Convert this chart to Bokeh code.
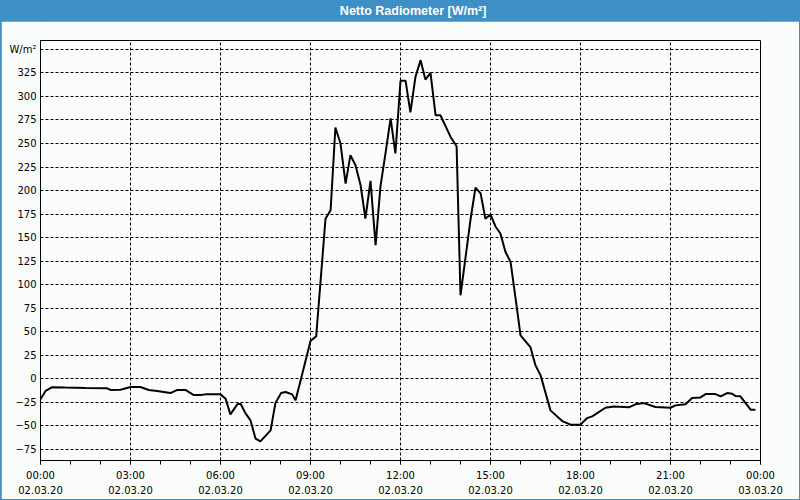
from bokeh.plotting import figure
from bokeh.layouts import column
from bokeh.models import FixedTicker, Range1d, ColumnDataSource
from bokeh.embed import file_html
from bokeh.resources import INLINE
from bokeh.core.properties import value

# ---- data (hours since 02.03.20 00:00, W/m²) ----
hours = [0.00, 0.17, 0.39, 0.83, 1.50, 2.22, 2.33, 2.67, 3.00, 3.33, 3.61, 3.89,
         4.33, 4.56, 4.83, 5.11, 5.33, 5.50, 6.00, 6.17, 6.33, 6.56, 6.67, 6.83,
         7.00, 7.17, 7.33, 7.67, 7.83, 8.02, 8.17, 8.39, 8.50, 8.67, 9.00, 9.19,
         9.50, 9.67, 9.83, 10.00, 10.17, 10.33, 10.50, 10.67, 10.83, 11.00, 11.17,
         11.33, 11.50, 11.67, 11.83, 12.00, 12.17, 12.33, 12.50, 12.67, 12.83,
         13.00, 13.17, 13.33, 13.67, 13.87, 14.00, 14.17, 14.33, 14.50, 14.67,
         14.83, 15.00, 15.17, 15.33, 15.50, 15.67, 15.89, 16.00, 16.33, 16.50,
         16.67, 17.00, 17.39, 17.67, 18.00, 18.22, 18.39, 18.83, 19.11, 19.61,
         19.83, 20.11, 20.50, 21.00, 21.17, 21.50, 21.72, 22.00, 22.17, 22.50,
         22.67, 22.89, 23.06, 23.17, 23.33, 23.67, 23.83]
watts = [-22.0, -13.0, -9.0, -9.5, -10.0, -10.3, -12.0, -11.7, -8.9, -8.9, -12.0, -13.0,
         -15.3, -12.0, -12.0, -17.4, -17.4, -16.7, -16.7, -21.3, -38.0, -27.3, -26.6, -36.6,
         -44.4, -63.8, -66.7, -55.0, -26.0, -15.3, -14.2, -16.7, -23.1, -2.0, 40.0, 45.0,
         170.0, 179.0, 267.0, 250.0, 207.4, 237.6, 226.9, 205.6, 170.2, 210.2, 141.8,
         203.8, 239.4, 276.6, 239.4, 316.6, 316.6, 283.0, 321.0, 338.6, 318.0,
         325.0, 280.0, 280.0, 257.0, 247.0, 88.6, 129.4, 168.4, 203.0, 197.0,
         170.0, 174.6, 161.5, 154.3, 134.7, 124.0, 72.7, 46.1, 33.6, 14.1,
         3.5, -33.7, -45.1, -48.9, -48.9, -41.9, -40.1, -30.9, -29.5, -30.5,
         -27.3, -26.0, -30.2, -30.9, -28.4, -27.3, -20.6, -19.9, -16.4, -16.4,
         -18.8, -15.3, -16.0, -18.5, -18.8, -33.0, -33.0]

x_tick_hours = [0, 3, 6, 9, 12, 15, 18, 21, 24]
x_tick_labels = ["00:00\n02.03.20", "03:00\n02.03.20", "06:00\n02.03.20",
                 "09:00\n02.03.20", "12:00\n02.03.20", "15:00\n02.03.20",
                 "18:00\n02.03.20", "21:00\n02.03.20", "00:00\n03.03.20"]
x_minor_hours = list(range(0, 25))
y_ticks = [-75, -50, -25, 0, 25, 50, 75, 100, 125, 150, 175, 200, 225, 250, 275, 300, 325, 350]
unit_label = "W/m²"
title_text = "Netto Radiometer [W/m²]"

BLUE = "#3d8fc6"
BG = "#fbfdfc"
FONT = "DejaVu Sans"

# ---- header bar ----
header = figure(width=798, height=21, x_range=Range1d(0, 798), y_range=Range1d(0, 21),
                output_backend="svg", toolbar_location=None, min_border=0)
header.axis.visible = False
header.grid.visible = False
header.outline_line_color = None
header.background_fill_color = BLUE
header.border_fill_color = BLUE
header.text(x=[413], y=[10.5], text=[title_text], text_align="center",
            text_baseline="middle", text_color="white",
            text_font=value("Liberation Sans"), text_font_style="bold",
            text_font_size="12.5px")

# ---- main chart ----
p = figure(width=798, height=478, x_range=Range1d(0, 24), y_range=Range1d(-87, 359.5),
           output_backend="svg", toolbar_location=None,
           min_border_left=39, min_border_right=39, min_border_top=19, min_border_bottom=39)
p.background_fill_color = BG
p.border_fill_color = BG
p.outline_line_color = "black"
p.outline_line_width = 1

src = ColumnDataSource(data=dict(h=hours, w=watts))
p.line("h", "w", source=src, line_color="black", line_width=2)

# x axis
p.xaxis.ticker = FixedTicker(ticks=x_tick_hours, minor_ticks=x_minor_hours)
p.xaxis.major_label_overrides = {h: lab for h, lab in zip(x_tick_hours, x_tick_labels)}
p.xaxis.major_tick_in = 0
p.xaxis.major_tick_out = 4
p.xaxis.minor_tick_in = 0
p.xaxis.minor_tick_out = 4
p.xaxis.major_label_standoff = 5
p.xaxis.major_label_text_font = FONT
p.xaxis.major_label_text_font_size = "10px"
p.xaxis.major_label_text_color = "black"
p.xaxis.major_label_text_line_height = 1.45
p.xaxis.axis_line_color = "black"
p.xaxis.major_tick_line_color = "black"
p.xaxis.minor_tick_line_color = "black"

# y axis
p.yaxis.ticker = FixedTicker(ticks=y_ticks, minor_ticks=[])
p.yaxis.major_label_overrides = {350: unit_label}
p.yaxis.major_tick_in = 0
p.yaxis.major_tick_out = 0
p.yaxis.minor_tick_in = 0
p.yaxis.minor_tick_out = 0
p.yaxis.major_label_standoff = 4
p.yaxis.major_label_text_font = FONT
p.yaxis.major_label_text_font_size = "10px"
p.yaxis.major_label_text_color = "black"
p.yaxis.axis_line_color = "black"

# grid
for g in (p.xgrid, p.ygrid):
    g.grid_line_color = "black"
    g.grid_line_width = 1
    g.grid_line_dash = "3 2"
    g.grid_line_alpha = 1.0

layout = column(header, p, spacing=0,
                styles={"background-color": BLUE, "padding": "0px 1px 1px 1px"})

open("out.html", "w").write(file_html(layout, INLINE))
